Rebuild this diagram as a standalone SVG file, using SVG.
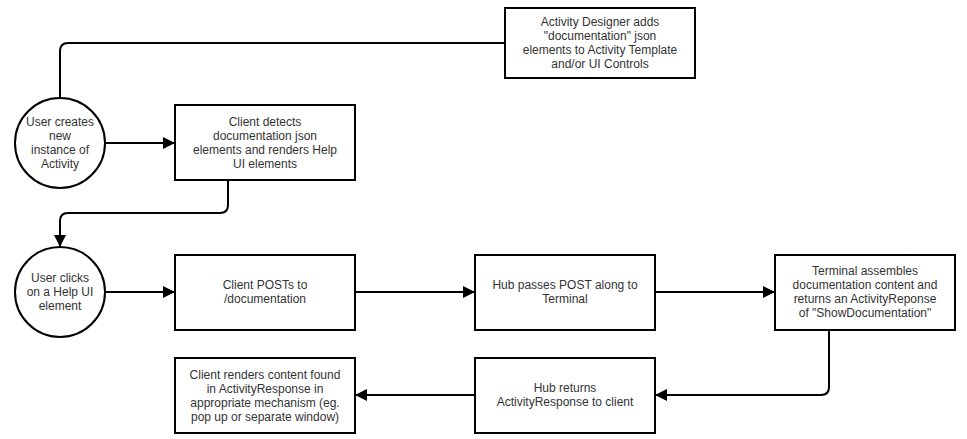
<svg xmlns="http://www.w3.org/2000/svg" width="967" height="439" viewBox="0 0 967 439">
<style>
.n{fill:#fff;stroke:#000;stroke-width:2}
.t{font-family:"Liberation Sans",Arial,sans-serif;font-size:12px;fill:#333;text-anchor:middle}
.c{fill:none;stroke:#000;stroke-width:2}
</style>
<defs>
<marker id="ah" viewBox="0 0 12 12" refX="12" refY="6" markerWidth="12" markerHeight="12" markerUnits="userSpaceOnUse" orient="auto">
<path d="M0,0 L12,6 L0,12 z" fill="#000"/>
</marker>
</defs>
<rect width="967" height="439" fill="#fff"/>
<g id="connectors">
<path class="c" d="M60,98 V51 Q60,43 68,43 H505"/>
<path class="c" d="M105,143 H175" marker-end="url(#ah)"/>
<path class="c" d="M228,180 V205 Q228,213 220,213 H68 Q60,213 60,221 V247" marker-end="url(#ah)"/>
<path class="c" d="M105,292 H175" marker-end="url(#ah)"/>
<path class="c" d="M355,292 H475" marker-end="url(#ah)"/>
<path class="c" d="M655,292 H775" marker-end="url(#ah)"/>
<path class="c" d="M829,330 V387 Q829,395 821,395 H655" marker-end="url(#ah)"/>
<path class="c" d="M475,395 H355" marker-end="url(#ah)"/>
</g>
<g id="designer">
<rect class="n" x="505" y="8" width="190" height="70"/>
<text class="t" x="600" y="26">Activity Designer adds</text>
<text class="t" x="600" y="40">"documentation" json</text>
<text class="t" x="600" y="54">elements to Activity Template</text>
<text class="t" x="600" y="68">and/or UI Controls</text>
</g>
<g id="userCreates">
<circle class="n" cx="60" cy="143" r="45"/>
<text class="t" x="60" y="126">User creates</text>
<text class="t" x="60" y="140">new</text>
<text class="t" x="60" y="154">instance of</text>
<text class="t" x="60" y="168">Activity</text>
</g>
<g id="clientDetects">
<rect class="n" x="175" y="105" width="180" height="75"/>
<text class="t" x="265" y="126">Client detects</text>
<text class="t" x="265" y="140">documentation json</text>
<text class="t" x="265" y="154">elements and renders Help</text>
<text class="t" x="265" y="168">UI elements</text>
</g>
<g id="userClicks">
<circle class="n" cx="60" cy="292" r="45"/>
<text class="t" x="60" y="282">User clicks</text>
<text class="t" x="60" y="296">on a Help UI</text>
<text class="t" x="60" y="310">element</text>
</g>
<g id="clientPosts">
<rect class="n" x="175" y="255" width="180" height="75"/>
<text class="t" x="265" y="289">Client POSTs to</text>
<text class="t" x="265" y="303">/documentation</text>
</g>
<g id="hubPasses">
<rect class="n" x="475" y="255" width="180" height="75"/>
<text class="t" x="565" y="289">Hub passes POST along to</text>
<text class="t" x="565" y="303">Terminal</text>
</g>
<g id="terminal">
<rect class="n" x="775" y="255" width="180" height="75"/>
<text class="t" x="865" y="275">Terminal assembles</text>
<text class="t" x="865" y="289">documentation content and</text>
<text class="t" x="865" y="303">returns an ActivityReponse</text>
<text class="t" x="865" y="317">of "ShowDocumentation"</text>
</g>
<g id="hubReturns">
<rect class="n" x="475" y="358" width="180" height="75"/>
<text class="t" x="565" y="392">Hub returns</text>
<text class="t" x="565" y="406">ActivityResponse to client</text>
</g>
<g id="clientRenders">
<rect class="n" x="175" y="358" width="180" height="75"/>
<text class="t" x="265" y="379">Client renders content found</text>
<text class="t" x="265" y="393">in ActivityResponse in</text>
<text class="t" x="265" y="407">appropriate mechanism (eg.</text>
<text class="t" x="265" y="421">pop up or separate window)</text>
</g>
</svg>
